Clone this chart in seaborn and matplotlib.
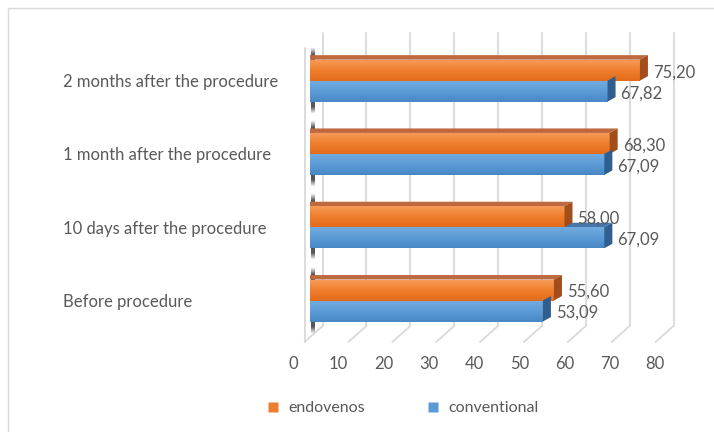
import numpy as np
import pandas as pd
import seaborn as sns
import matplotlib
matplotlib.use("Agg")
import matplotlib.pyplot as plt
from matplotlib.patches import Polygon, Rectangle
from matplotlib.lines import Line2D
from matplotlib.colors import LinearSegmentedColormap

# ---------------- data ----------------
categories = ["2 months after the procedure", "1 month after the procedure",
              "10 days after the procedure", "Before procedure"]
series_names = ["endovenos", "conventional"]
endovenos = [75.20, 68.30, 58.00, 55.60]
conventional = [67.82, 67.09, 67.09, 53.09]
x_ticks = [0, 10, 20, 30, 40, 50, 60, 70, 80]

# ---------------- style ----------------
W, H, DPI = 714, 432, 100
TEXT = "#595959"
ORANGE, BLUE = "#ED7D31", "#5B9BD5"
GRID = "#D9D9D9"
FS = 12

sns.set_theme(style="white")
plt.rcParams["font.family"] = ["Lato", "DejaVu Sans"]

fig = plt.figure(figsize=(W / DPI, H / DPI), dpi=DPI)
fig.patch.set_facecolor("white")


def fx(px):
    return px / W


def fy(py):
    return 1 - py / H


ax = fig.add_axes([fx(310), fy(342), fx(661) - fx(310), fy(44) - fy(342)])

df = pd.DataFrame({
    "category": categories * 2,
    "group": [series_names[0]] * len(categories) + [series_names[1]] * len(categories),
    "value": endovenos + conventional,
})

sns.barplot(data=df, y="category", x="value", hue="group", order=categories,
            hue_order=series_names, palette=[ORANGE, BLUE], width=0.573,
            orient="h", ax=ax, legend=False, saturation=1, linewidth=0,
            edgecolor="none", zorder=3)

ax.set_xlim(0, 80)
ax.set_ylim(3.566, -0.5)
ax.patch.set_visible(False)
for s in ax.spines.values():
    s.set_visible(False)
ax.set_xticks([])
ax.set_xlabel("")
ax.set_ylabel("")
ax.tick_params(axis="y", length=0, pad=247 * 72 / DPI, labelsize=FS, labelcolor=TEXT)
for t in ax.get_yticklabels():
    t.set_ha("left")

# ---------------- gradients + 3D faces on bars ----------------
grad = np.linspace(0, 1, 64).reshape(-1, 1)
cmaps = {
    ORANGE: LinearSegmentedColormap.from_list("o", ["#F69A58", "#F07E2C", "#E36C1A"]),
    BLUE: LinearSegmentedColormap.from_list("b", ["#72ABE0", "#5B9BD5", "#4788C6"]),
}
top_cols = {ORANGE: "#BF6A3E", BLUE: "#4677A8"}
side_cols = {ORANGE: "#A24E1C", BLUE: "#2F5F8E"}

n = len(categories)
bars = list(ax.patches)
bar_color = [ORANGE] * n + [BLUE] * n
bar_vals = endovenos + conventional

dx, dy = 8, 4.5
inv = ax.transData.inverted()
for p, col, val in zip(bars, bar_color, bar_vals):
    x0, y0 = p.get_x(), p.get_y()
    x1, y1 = x0 + p.get_width(), y0 + p.get_height()
    ytop, ybot = min(y0, y1), max(y0, y1)
    im = ax.imshow(grad, cmap=cmaps[col], extent=[x0, x1, ybot, ytop],
                   origin="upper", aspect="auto", zorder=3.1, interpolation="bilinear")
    im.set_clip_path(p)
    (dl, dt) = ax.transData.transform((x0, ytop))
    (dr, db) = ax.transData.transform((x1, ybot))
    top_face = [(dl, dt), (dr, dt), (dr + dx, dt + dy), (dl, dt + dy)]
    side_face = [(dr, dt), (dr + dx, dt + dy), (dr + dx, db + dy), (dr, db)]
    ax.add_patch(Polygon(inv.transform(top_face), closed=True, fc=top_cols[col],
                         ec="none", zorder=2.5 if col == BLUE else 2.6))
    ax.add_patch(Polygon(inv.transform(side_face), closed=True, fc=side_cols[col],
                         ec="none", zorder=3.5))
    ax.annotate(f"{val:.2f}".replace(".", ","), xy=(x1, (ytop + ybot) / 2),
                xytext=(13, -2), textcoords="offset pixels", ha="left",
                va="center", fontsize=FS, color=TEXT, zorder=5)

# soft shadows on the left wall at each bar group
for i in range(n):
    po, pb = bars[i], bars[i + n]
    g_top = min(po.get_y(), po.get_y() + po.get_height())
    g_bot = max(pb.get_y(), pb.get_y() + pb.get_height())
    (_, ttop) = ax.transData.transform((0, g_top))
    (_, tbot) = ax.transData.transform((0, g_bot))
    ext_top, ext_bot = ttop + 13, tbot - 12  # display coords (y up)
    xl = ax.transData.transform((0, 0))[0]
    rows = 80
    ys = np.linspace(ext_top, ext_bot, rows)
    d_out = np.minimum(ys - ext_bot, ext_top - ys)
    alpha = np.clip(d_out / 7.0, 0, 1) * 0.85
    rgba = np.zeros((rows, 1, 4))
    rgba[..., 0:3] = 0.22
    rgba[:, 0, 3] = alpha
    (ex0, ey0) = inv.transform((xl + 0.5, ext_top))
    (ex1, ey1) = inv.transform((xl + 4.0, ext_bot))
    ax.imshow(rgba, extent=[ex0, ex1, ey1, ey0], origin="upper", aspect="auto",
              zorder=2.4, interpolation="bilinear")

ax.set_xlim(0, 80)
ax.set_ylim(3.566, -0.5)

# ---------------- 3D walls / gridlines ----------------
def px_of(v):
    return ax.transData.transform((v, 0))[0]


back_off, front_off = 12.5, -5.5
y_back_top, y_back_bot, y_front = 33, 326, 342
for v in x_ticks:
    xb = px_of(v) + back_off
    xf = px_of(v) + front_off
    if v != 0:
        ax.add_line(Line2D([fx(xb), fx(xb)], [fy(y_back_top), fy(y_back_bot)],
                           transform=fig.transFigure, color=GRID, lw=1.3,
                           zorder=0.5, clip_on=False))
    ax.add_line(Line2D([fx(xb), fx(xf)], [fy(y_back_bot), fy(y_front)],
                       transform=fig.transFigure, color=GRID, lw=1.3,
                       zorder=0.5, clip_on=False))
x0b = px_of(0) + back_off
x0f = px_of(0) + front_off
ax.add_line(Line2D([fx(x0b), fx(x0b)], [fy(y_back_top), fy(y_back_bot)],
                   transform=fig.transFigure, color=GRID, lw=1.3, zorder=0.5, clip_on=False))
ax.add_line(Line2D([fx(x0f), fx(x0f)], [fy(48), fy(y_front)],
                   transform=fig.transFigure, color=GRID, lw=1.3, zorder=0.5, clip_on=False))

# ---------------- front tick labels ----------------
ax2 = fig.add_axes([fx(293), fy(342), fx(655) - fx(293), 0.001])
ax2.set_xlim(0, 80)
ax2.set_xticks(x_ticks)
ax2.set_xticklabels([str(t) for t in x_ticks])
ax2.set_yticks([])
ax2.patch.set_visible(False)
for s in ax2.spines.values():
    s.set_visible(False)
ax2.tick_params(axis="x", length=0, pad=10, labelsize=FS, labelcolor=TEXT)

# ---------------- legend ----------------
handles = [Line2D([], [], marker="s", linestyle="none", markersize=7.2,
                  markerfacecolor=c, markeredgecolor="none") for c in (ORANGE, BLUE)]
fig.legend(handles, series_names, loc="center", bbox_to_anchor=(fx(403), fy(408)),
           ncol=2, frameon=False, fontsize=11.5, handlelength=0.7, handletextpad=0.6,
           columnspacing=3.9, labelcolor=TEXT)

# ---------------- chart border ----------------
fig.add_artist(Rectangle((fx(8), -0.1), 1.2, fy(8) + 0.1, transform=fig.transFigure,
                         fill=False, ec=GRID, lw=1.0))

fig.savefig("out.png", dpi=DPI)
